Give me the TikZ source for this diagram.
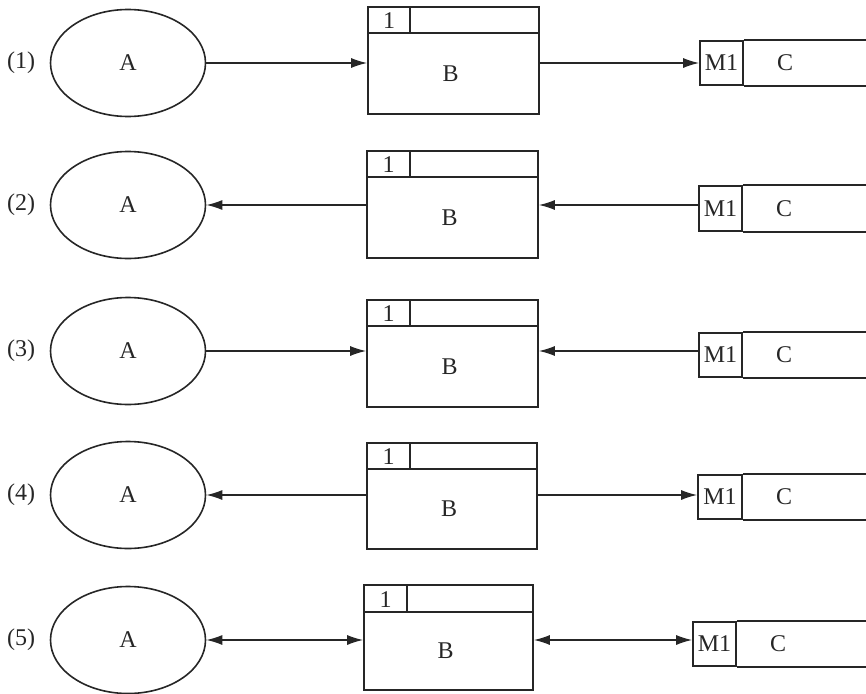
\documentclass[tikz,border=0pt]{standalone}
\usepackage{fontspec}
\setmainfont{Liberation Serif}
\usetikzlibrary{arrows.meta,calc,shapes.geometric}
\begin{document}
\begin{tikzpicture}[x=1pt,y=-1pt,
  line width=1.6pt,
  draw=black!85,
  every node/.style={font=\fontsize{24}{28}\selectfont, text=black!85},
  ell/.style={ellipse,draw,minimum width=155pt,minimum height=107pt,inner sep=0pt},
  bbox/.style={rectangle,draw,inner sep=0pt},
  cell/.style={rectangle,draw,inner sep=0pt},
  txt/.style={inner sep=0pt},
  conn/.style={line width=1.4pt},
  >={Latex[length=16pt,width=10pt]}
]
\useasboundingbox (0,0) rectangle (866,693);
\foreach \i/\y/\bl/\bt/\br/\bb/\bh/\bd/\cl/\cd/\ct/\cb/\la/\ra in {
 1/63/368/7/539/114/33/410/700/743/41/85/->/->,
 2/205/367/151/538/258/177/410/699/742/186/231/<-/<-,
 3/351/367/300/538/407/326/410/699/742/333/377/->/<-,
 4/495/367/443/537/549/469/410/698/742/475/519/<-/->,
 5/640/364/585/533/690/612/407/693/736/622/666/<->/<->}{
  \node[txt] (n\i) at (21,\y) {(\i)};
  \node[ell] (a\i) at (128,\y) {A};
  \node[bbox, minimum width={(\br-\bl)*1pt}, minimum height={(\bb-\bt)*1pt}] (b\i) at ({(\bl+\br)/2},{(\bt+\bb)/2}) {};
  \draw (b\i.west |- 0,\bh) -- (b\i.east |- 0,\bh);
  \draw (\bd,\bt) -- (\bd,\bh);
  \node[txt] (h\i) at ({(\bl+\bd)/2},{(\bt+\bh)/2+1}) {1};
  \node[txt] (bt\i) at ({(\bl+\br)/2-3},{(\bh+\bb)/2}) {B};
  \node[cell, minimum width={(\cd-\cl)*1pt}, minimum height={(\cb-\ct)*1pt}] (m\i) at ({(\cl+\cd)/2},{(\ct+\cb)/2}) {M1};
  \draw (m\i.north east) -- (m\i.north east -| 870,0);
  \draw (m\i.south east) -- (m\i.south east -| 870,0);
  \node[txt] (c\i) at (\cd+42,{(\ct+\cb)/2}) {C};
  \draw[conn,\la] (a\i.east) -- (a\i.east -| b\i.west);
  \draw[conn,\ra] (a\i.east -| b\i.east) -- (a\i.east -| m\i.west);
}
\end{tikzpicture}
\end{document}
